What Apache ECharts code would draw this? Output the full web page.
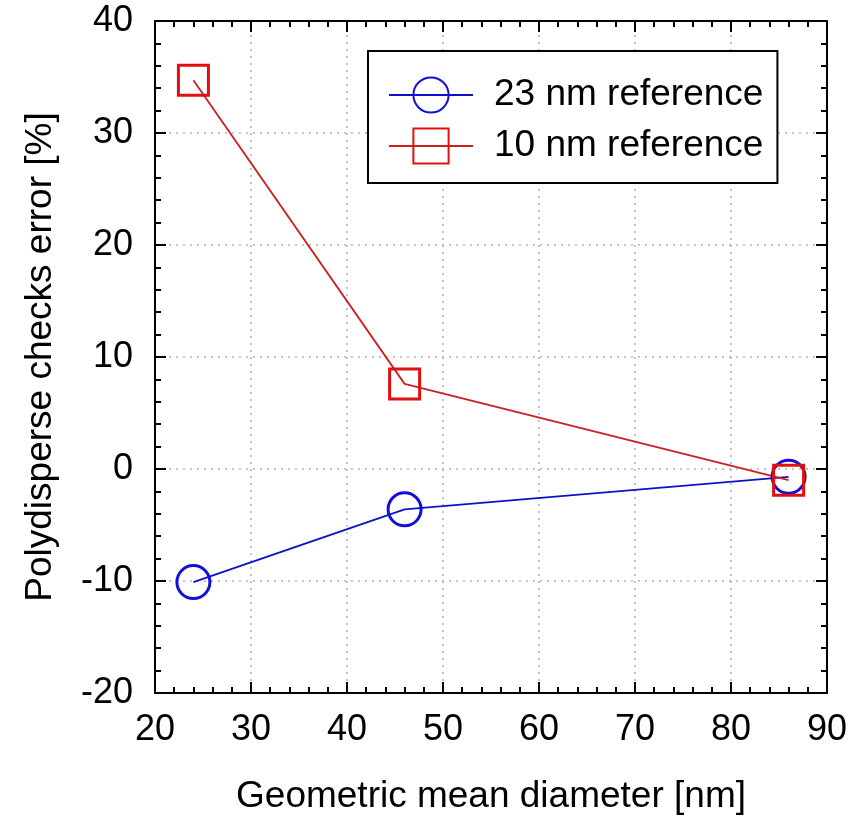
<!DOCTYPE html>
<html>
<head>
<meta charset="utf-8">
<script src="https://cdn.jsdelivr.net/npm/echarts@6/dist/echarts.min.js"></script>
<style>
  html, body { margin: 0; padding: 0; background: #fff; }
  #chart { width: 856px; height: 820px; }
</style>
</head>
<body>
<div id="chart"></div>
<script>
var xValues = [24, 46, 86];
var ref23 = [-10.1, -3.6, -0.7];
var ref10 = [34.7, 7.6, -1.0];
var seriesNames = ['23 nm reference', '10 nm reference'];

var font = 'Arial, "Liberation Sans", sans-serif';

function pairs(xs, ys) {
    return xs.map(function (x, i) { return [x, ys[i]]; });
}

var tickStyle = { show: true, inside: true, length: 11, lineStyle: { color: '#000', width: 2 } };
var minorStyle = { show: true, splitNumber: 5, length: 6, lineStyle: { color: '#000', width: 2 } };
var gridLine = { show: true, lineStyle: { color: '#b0b0b0', width: 1.5, type: [2, 5] } };
var axisLine = { show: true, onZero: false, lineStyle: { color: '#000', width: 2 } };

var myChart = echarts.init(document.getElementById('chart'));
var option = {
    animation: false,
    backgroundColor: '#fff',
    grid: { left: 155, top: 21, right: 29, bottom: 127 },
    legend: {
        left: 368,
        top: 51,
        orient: 'vertical',
        data: seriesNames,
        backgroundColor: '#fff',
        borderColor: '#000',
        borderWidth: 2,
        padding: [22, 14, 15, 20],
        itemWidth: 84,
        itemHeight: 44,
        itemGap: 7,
        textStyle: { fontFamily: font, fontSize: 37, lineHeight: 44, color: '#000', padding: [0, 0, 0, 16] }
    },
    xAxis: [
        {
            type: 'value', min: 20, max: 90, interval: 10,
            name: 'Geometric mean diameter [nm]',
            nameLocation: 'middle', nameGap: 85,
            nameTextStyle: { fontFamily: font, fontSize: 37, color: '#000' },
            axisLine: axisLine, axisTick: tickStyle, minorTick: minorStyle,
            splitLine: gridLine,
            axisLabel: { fontFamily: font, fontSize: 36, color: '#000', margin: 19 }
        },
        {
            type: 'value', min: 20, max: 90, interval: 10, position: 'top',
            axisLine: axisLine, axisTick: tickStyle, minorTick: minorStyle,
            splitLine: { show: false }, axisLabel: { show: false }
        }
    ],
    yAxis: [
        {
            type: 'value', min: -20, max: 40, interval: 10,
            name: 'Polydisperse checks error [%]',
            nameLocation: 'middle', nameGap: 96,
            nameTextStyle: { fontFamily: font, fontSize: 37, color: '#000' },
            axisLine: axisLine, axisTick: tickStyle, minorTick: minorStyle,
            splitLine: gridLine,
            axisLabel: { fontFamily: font, fontSize: 36, color: '#000', margin: 22 }
        },
        {
            type: 'value', min: -20, max: 40, interval: 10, position: 'right',
            axisLine: axisLine, axisTick: tickStyle, minorTick: minorStyle,
            splitLine: { show: false }, axisLabel: { show: false }
        }
    ],
    series: [
        {
            name: seriesNames[0],
            type: 'line',
            data: pairs(xValues, ref23),
            symbol: 'circle',
            symbolSize: 33,
            lineStyle: { color: '#1010c8', width: 1.8 },
            itemStyle: { color: 'rgba(0,0,0,0)', borderColor: '#1010d8', borderWidth: 3 }
        },
        {
            name: seriesNames[1],
            type: 'line',
            data: pairs(xValues, ref10),
            symbol: 'rect',
            symbolSize: 30,
            lineStyle: { color: '#cc2020', width: 1.8 },
            itemStyle: { color: 'rgba(0,0,0,0)', borderColor: '#e01010', borderWidth: 3 }
        }
    ]
};
myChart.setOption(option);
</script>
</body>
</html>
